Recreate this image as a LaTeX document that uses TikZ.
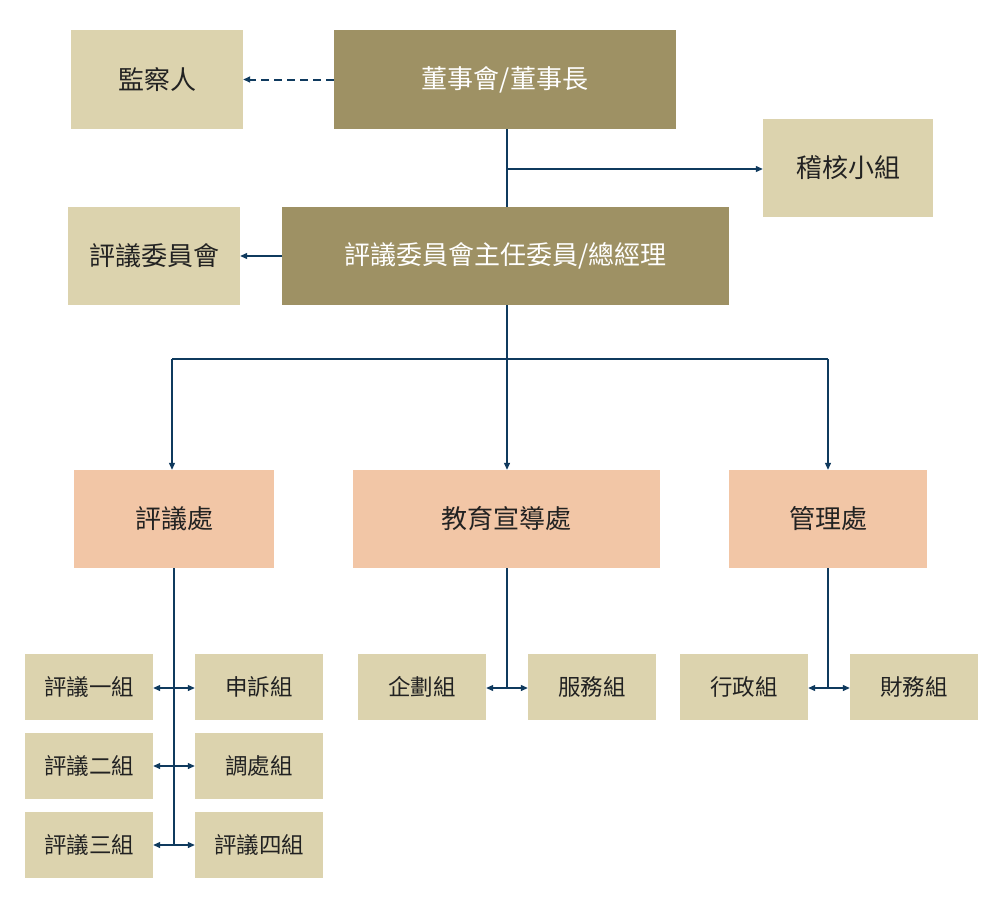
\documentclass[tikz,border=0pt]{standalone}
\usepackage{fontspec}
\setmainfont{Noto Sans CJK TC}
\usetikzlibrary{arrows.meta}
\definecolor{darkbox}{HTML}{9E9164}
\definecolor{lightbox}{HTML}{DCD3AE}
\definecolor{pinkbox}{HTML}{F2C6A6}
\definecolor{linec}{HTML}{0F3A5E}
\definecolor{textc}{HTML}{222222}
\tikzset{
  box/.style={rectangle, inner sep=0pt, anchor=center, font=\fontsize{26}{30}\selectfont},
  topbox/.style={box, fill=darkbox, text=white},
  sidebox/.style={box, fill=lightbox, text=textc},
  deptbox/.style={box, fill=pinkbox, text=textc},
  smallbox/.style={box, fill=lightbox, text=textc, minimum width=128pt, minimum height=66pt, font=\fontsize{22.5}{26}\selectfont},
  conn/.style={draw=linec, line width=1.2pt},
  arr/.style={conn, -{Triangle[length=7pt,width=6pt]}},
  darr/.style={conn, {Triangle[length=7pt,width=6pt]}-{Triangle[length=7pt,width=6pt]}},
}
\begin{document}
\begin{tikzpicture}[x=1pt,y=-1pt]
\useasboundingbox (0,0) rectangle (1000,910);
\fill[white] (0,0) rectangle (1000,910);

\node[sidebox, minimum width=172pt, minimum height=99pt] (jian) at (157,79.5) {監察人};
\node[topbox, minimum width=342pt, minimum height=99pt] (dsh) at (505,79.5) {董事會/董事長};
\node[sidebox, minimum width=170pt, minimum height=98pt] (jihe) at (848,168) {稽核小組};
\node[sidebox, minimum width=172pt, minimum height=98pt] (pywh) at (154,256) {評議委員會};
\node[topbox, minimum width=447pt, minimum height=98pt] (zr) at (505.5,256) {評議委員會主任委員/總經理};

\node[deptbox, minimum width=200pt, minimum height=98pt] (pyc) at (174,519) {評議處};
\node[deptbox, minimum width=307pt, minimum height=98pt] (jy) at (506.5,519) {教育宣導處};
\node[deptbox, minimum width=198pt, minimum height=98pt] (gl) at (828,519) {管理處};

\node[smallbox] (p1) at (89,687) {評議一組};
\node[smallbox] (ss) at (259,687) {申訴組};
\node[smallbox] (p2) at (89,766) {評議二組};
\node[smallbox] (tc) at (259,766) {調處組};
\node[smallbox] (p3) at (89,845) {評議三組};
\node[smallbox] (p4) at (259,845) {評議四組};
\node[smallbox] (qh) at (422,687) {企劃組};
\node[smallbox] (fw) at (592,687) {服務組};
\node[smallbox] (xz) at (744,687) {行政組};
\node[smallbox] (cw) at (914,687) {財務組};

\coordinate (j1) at (507,169);
\coordinate (j2) at (507,359);
\coordinate (jl) at (172,359);
\coordinate (jr) at (828,359);
\coordinate (b1) at (174,688);
\coordinate (b2) at (174,766);
\coordinate (b3) at (174,845);
\coordinate (e1) at (507,688);
\coordinate (g1) at (828,688);

% top level
\draw[arr, line width=2pt, dash pattern=on 8pt off 5pt] (dsh.west) -- (jian.east);
\draw[conn] (dsh.south -| j1) -- (zr.north -| j1);
\draw[arr] (j1) -- (jihe.west |- j1);
\draw[arr] (zr.west) -- (pywh.east);

% to departments
\draw[arr] (zr.south -| j2) -- (jy.north -| j2);
\draw[conn] (jl) -- (jr);
\draw[arr] (jl) -- (pyc.north -| jl);
\draw[arr] (jr) -- (gl.north -| jr);

% 評議處 branch
\draw[conn] (pyc.south -| b1) -- (b3);
\draw[darr] (p1.east |- b1) -- (ss.west |- b1);
\draw[darr] (p2.east |- b2) -- (tc.west |- b2);
\draw[darr] (p3.east |- b3) -- (p4.west |- b3);

% 教育宣導處 branch
\draw[conn] (jy.south -| e1) -- (e1);
\draw[darr] (qh.east |- e1) -- (fw.west |- e1);

% 管理處 branch
\draw[conn] (gl.south -| g1) -- (g1);
\draw[darr] (xz.east |- g1) -- (cw.west |- g1);
\end{tikzpicture}
\end{document}
